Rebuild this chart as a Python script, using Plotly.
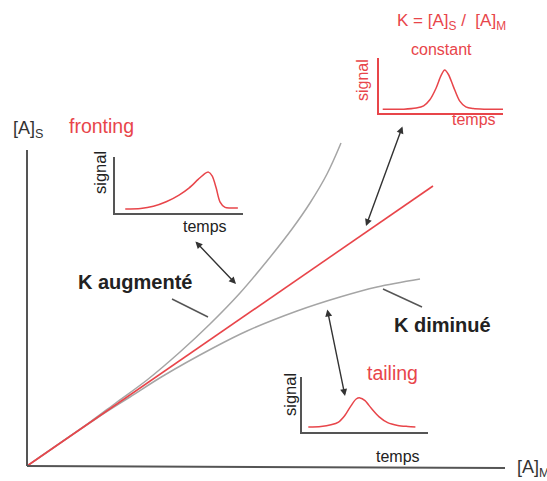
import plotly.graph_objects as go

# main isotherm curves ([A]M on x, [A]S on y), arbitrary units
lin_x = [0, 406]
lin_y = [0, 280]
up_x = [0, 63, 90, 120, 153, 183, 213, 240, 265, 283, 300, 314]
up_y = [0, 44, 64, 86, 114, 142, 173, 205, 237, 263, 292, 323]
low_x = [0, 70, 103, 136, 186, 220, 270, 313, 350, 393]
low_y = [0, 48, 69, 90, 118, 135, 155, 169, 179, 187]

# small chromatograms (temps, signal)
front_t = [0.8, 2.0, 3.0, 4.0, 5.0, 5.8, 6.5, 7.0, 7.3, 7.6, 7.9, 8.2, 8.6, 9.0, 9.6]
front_s = [0.07, 0.08, 0.12, 0.2, 0.32, 0.45, 0.6, 0.7, 0.73, 0.66, 0.45, 0.2, 0.1, 0.09, 0.09]
const_t = [0.3, 2.0, 3.0, 3.6, 4.1, 4.6, 5.0, 5.3, 5.6, 6.0, 6.5, 7.0, 7.6, 8.5, 10]
const_s = [0.07, 0.07, 0.09, 0.13, 0.24, 0.45, 0.68, 0.78, 0.7, 0.48, 0.22, 0.11, 0.08, 0.07, 0.07]
tail_t = [0.5, 1.5, 2.3, 2.9, 3.4, 3.9, 4.3, 4.6, 5.0, 5.5, 6.1, 6.8, 7.6, 8.4, 9.0]
tail_s = [0.09, 0.1, 0.13, 0.18, 0.3, 0.48, 0.6, 0.62, 0.57, 0.43, 0.28, 0.17, 0.12, 0.1, 0.09]

W, H = 547, 481
RED = "#e8454a"
GREY = "#a5a5a5"
DARK = "#333333"
FONT = "Arial, Liberation Sans, sans-serif"


def d(px, py):
    # pixel position -> main axis coords
    return px - 27, 466 - py


fig = go.Figure()
fig.add_trace(go.Scatter(x=up_x, y=up_y, mode="lines", line=dict(color=GREY, width=1.5, shape="spline")))
fig.add_trace(go.Scatter(x=low_x, y=low_y, mode="lines", line=dict(color=GREY, width=1.5, shape="spline")))
fig.add_trace(go.Scatter(x=lin_x, y=lin_y, mode="lines", line=dict(color=RED, width=1.6)))

insets = [
    (front_t, front_s, "x2", "y2"),
    (const_t, const_s, "x3", "y3"),
    (tail_t, tail_s, "x4", "y4"),
]
for t, s, xa, ya in insets:
    fig.add_trace(go.Scatter(x=t, y=s, mode="lines", xaxis=xa, yaxis=ya,
                             line=dict(color=RED, width=1.5, shape="spline", smoothing=0.8)))

hidden = dict(visible=False, showgrid=False, zeroline=False)


def inset_axes(n, x0, x1, y0, y1, col):
    common = dict(showline=True, linecolor=col, linewidth=2, showticklabels=False,
                  ticks="", showgrid=False, zeroline=False)
    xa = dict(domain=[x0 / W, x1 / W], range=[0, 10], anchor="y" + n, **common)
    ya = dict(domain=[1 - y1 / H, 1 - y0 / H], range=[0, 1], anchor="x" + n, **common)
    return xa, ya


x2, y2 = inset_axes("2", 115, 243, 157, 213, "#555555")
x3, y3 = inset_axes("3", 379, 503, 58, 113, RED)
x4, y4 = inset_axes("4", 302, 428, 377, 432, "#555555")

ann = []


def text(px, py, s, size, color, bold=False, angle=0, xanchor="center"):
    x, y = d(px, py)
    if bold:
        s = "<b>" + s + "</b>"
    ann.append(dict(x=x, y=y, xref="x", yref="y", text=s, showarrow=False, textangle=angle,
                    xanchor=xanchor, yanchor="middle",
                    font=dict(family=FONT, size=size, color=color)))


def arrow(p0, p1):
    x, y = d(*p1)
    ax, ay = d(*p0)
    ann.append(dict(x=x, y=y, ax=ax, ay=ay, xref="x", yref="y", axref="x", ayref="y", text="",
                    showarrow=True, arrowhead=2, startarrowhead=2, arrowside="end+start",
                    arrowsize=1, startarrowsize=1, arrowwidth=1.4, arrowcolor=DARK))


text(11, 129, "[A]<sub>S</sub>", 18, DARK, xanchor="left")
text(515, 468, "[A]<sub>M</sub>", 18, DARK, xanchor="left")
text(101, 126, "fronting", 19.5, RED)
text(392, 373, "tailing", 19.5, RED)
text(135, 282, "K augmenté", 20, "#222222", bold=True)
text(442, 325, "K diminué", 20, "#222222", bold=True)
text(451, 22, "K = [A]<sub>S</sub> /  [A]<sub>M</sub>", 17, RED)
text(441, 49, "constant", 16, RED)

text(100, 173, "signal", 16.5, "#222222", angle=-90)
text(205, 226, "temps", 16, "#222222")
text(362, 80, "signal", 16, RED, angle=-90)
text(474, 119, "temps", 16, RED)
text(290, 395, "signal", 16.5, "#222222", angle=-90)
text(398, 456, "temps", 16, "#222222")

arrow((194, 240), (236, 284))
arrow((403, 125), (366, 226))
arrow((327, 308), (345, 396))

shapes = []
for p0, p1, col, w in [((27, 466), (27, 150), "#555555", 2),
                       ((27, 466), (505, 468), "#555555", 2),
                       ((172, 299), (208, 317), "#555555", 1.4),
                       ((383, 289), (422, 307), "#555555", 1.4)]:
    a = d(*p0)
    b = d(*p1)
    shapes.append(dict(type="line", xref="x", yref="y", x0=a[0], y0=a[1], x1=b[0], y1=b[1],
                       line=dict(color=col, width=w)))

fig.update_layout(
    width=W, height=H, margin=dict(l=0, r=0, t=0, b=0),
    paper_bgcolor="white", plot_bgcolor="white", showlegend=False,
    xaxis=dict(range=[-27, W - 27], domain=[0, 1], **hidden),
    yaxis=dict(range=[466 - H, 466], domain=[0, 1], **hidden),
    xaxis2=x2, yaxis2=y2, xaxis3=x3, yaxis3=y3, xaxis4=x4, yaxis4=y4,
    annotations=ann, shapes=shapes,
)

fig.write_html("out.html", config={"displayModeBar": False},
               post_script="document.body.style.margin='0px';")
